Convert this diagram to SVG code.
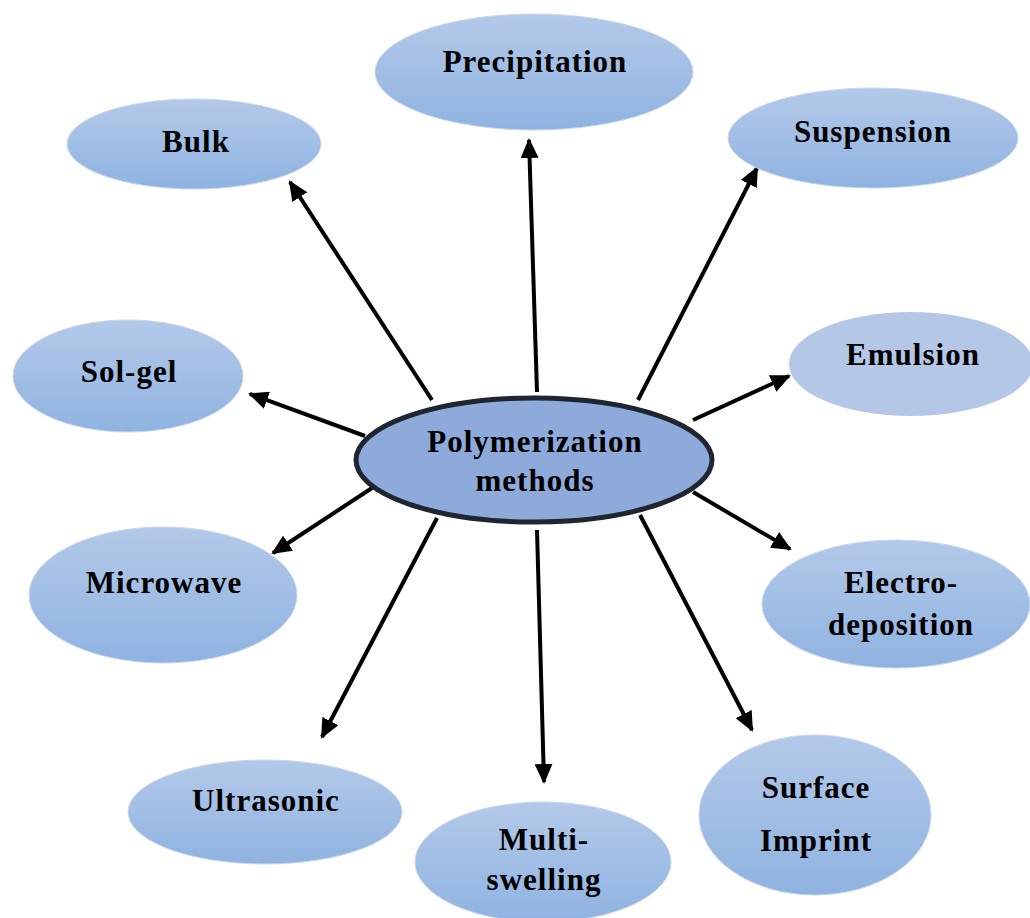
<svg xmlns="http://www.w3.org/2000/svg" width="1030" height="918" viewBox="0 0 1030 918">
<defs>
<linearGradient id="g" x1="0" y1="0" x2="0" y2="1">
<stop offset="0" stop-color="#b3c9e9"/>
<stop offset="1" stop-color="#8fb3e1"/>
</linearGradient>
<marker id="ah" markerUnits="userSpaceOnUse" markerWidth="20" markerHeight="18" refX="18" refY="9" orient="auto">
<path d="M0,0 L20,9 L0,18 Z" fill="#000"/>
</marker>
<style>
.n{fill:url(#g);stroke:#c9d7ec;stroke-width:1}
.t{font-family:"Liberation Serif","Times New Roman",serif;font-weight:bold;font-size:31px;letter-spacing:1px;fill:#000;text-anchor:middle}
.c line{stroke:#000;stroke-width:4;marker-end:url(#ah)}
</style>
</defs>
<rect width="1030" height="918" fill="#fff"/>
<g id="connectors" class="c">
<line x1="537" y1="392" x2="529" y2="140"/>
<line x1="432" y1="400" x2="290" y2="182"/>
<line x1="638" y1="400" x2="757" y2="168"/>
<line x1="693" y1="420" x2="789" y2="376"/>
<line x1="365" y1="436" x2="250" y2="394"/>
<line x1="372" y1="488" x2="273" y2="553"/>
<line x1="693" y1="492" x2="790" y2="549"/>
<line x1="437" y1="518" x2="322" y2="737"/>
<line x1="537" y1="530" x2="544" y2="782"/>
<line x1="640" y1="515" x2="752" y2="730"/>
</g>
<g id="center">
<ellipse cx="534" cy="460" rx="178" ry="62" fill="#8eaadb" stroke="#1f2630" stroke-width="5"/>
<text class="t" x="535" y="452">Polymerization</text>
<text class="t" x="535" y="491">methods</text>
</g>
<g id="precipitation">
<ellipse class="n" cx="534" cy="72" rx="159" ry="58"/>
<text class="t" x="535" y="72">Precipitation</text>
</g>
<g id="bulk">
<ellipse class="n" cx="194" cy="144" rx="127" ry="45"/>
<text class="t" x="196" y="152">Bulk</text>
</g>
<g id="suspension">
<ellipse class="n" cx="873" cy="138" rx="145" ry="50"/>
<text class="t" x="873" y="142">Suspension</text>
</g>
<g id="emulsion">
<ellipse cx="911" cy="364" rx="122" ry="52" fill="#b4c7e7"/>
<text class="t" x="913" y="365">Emulsion</text>
</g>
<g id="solgel">
<ellipse class="n" cx="128" cy="376" rx="115" ry="56"/>
<text class="t" x="129" y="382">Sol-gel</text>
</g>
<g id="microwave">
<ellipse class="n" cx="163" cy="595" rx="134" ry="68"/>
<text class="t" x="164" y="593">Microwave</text>
</g>
<g id="electrodeposition">
<ellipse class="n" cx="896" cy="604" rx="134" ry="64"/>
<text class="t" x="901" y="593">Electro-</text>
<text class="t" x="901" y="635">deposition</text>
</g>
<g id="ultrasonic">
<ellipse class="n" cx="265" cy="812" rx="137" ry="52"/>
<text class="t" x="266" y="811">Ultrasonic</text>
</g>
<g id="multiswelling">
<ellipse class="n" cx="543" cy="862" rx="128" ry="60"/>
<text class="t" x="544" y="850">Multi-</text>
<text class="t" x="544" y="890">swelling</text>
</g>
<g id="surfaceimprint">
<ellipse class="n" cx="815" cy="815" rx="116" ry="80"/>
<text class="t" x="816" y="798">Surface</text>
<text class="t" x="816" y="851">Imprint</text>
</g>
</svg>
